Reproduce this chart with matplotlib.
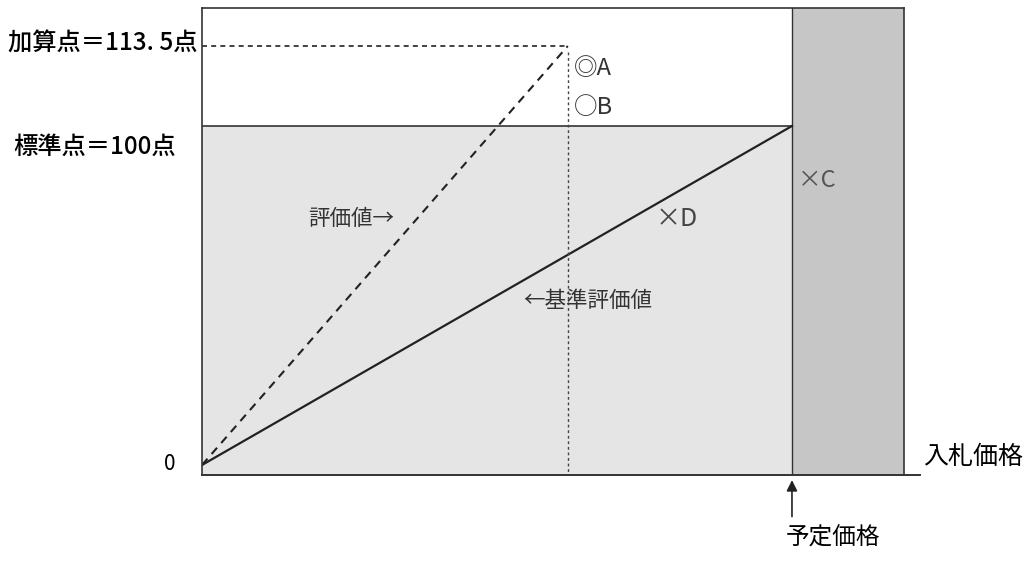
import numpy as np
import matplotlib.pyplot as plt

plt.rcParams['font.family'] = ['Noto Sans CJK JP', 'DejaVu Sans']

# schematic data (price: 予定価格 = 1.0, score in points)
price_start = 0.0
price_cross = 0.62      # bid price of the dotted vertical line
price_planned = 1.0     # 予定価格
price_end = 1.19        # right edge of the frame
score_zero = 0.0
score_std = 100.0       # 標準点
score_add = 113.5       # 加算点

# evaluation lines
eval_x = [price_start, price_cross]
eval_y = [score_zero, score_add]
base_x = [price_start, price_planned]
base_y = [score_zero, score_std]

# the diagram is not to scale: piecewise mapping of scores to drawing height
score_pts = [-3.0, 0.0, 100.0, 113.5, 124.7]
draw_pts = [-10.0, 0.0, 339.0, 419.0, 457.0]


def fwd(v):
    return np.interp(v, score_pts, draw_pts)


def inv(v):
    return np.interp(v, draw_pts, score_pts)


fig = plt.figure(figsize=(10.32, 5.74), dpi=100)
ax = fig.add_axes([202 / 1032, 99 / 574, 718 / 1032, 467 / 574])
ax.set_yscale('function', functions=(fwd, inv))
ax.set_xlim(0, 1.217)
ax.set_ylim(-3.0, 124.7)

light = '#e5e5e5'
dark = '#c6c6c6'

ax.fill_between([price_start, price_planned], -3.0, score_std, color=light, lw=0, zorder=0)
ax.fill_between([price_planned, price_end], -3.0, 124.7, color=dark, lw=0, zorder=0)

# frame
ax.plot([price_start, price_end], [124.7, 124.7], color='#333333', lw=1.2, clip_on=False)
ax.plot([price_end, price_end], [-3.0, 124.7], color='#333333', lw=1.2, clip_on=False)
ax.plot([price_planned, price_planned], [-3.0, 124.7], color='#333333', lw=1.0)
ax.plot([price_start, price_planned], [score_std, score_std], color='#333333', lw=1.2)

# lines
ax.plot(base_x, base_y, color='#222222', lw=1.6)
ax.plot(eval_x, eval_y, color='#222222', lw=1.5, ls=(0, (4, 3)))
ax.plot([price_start, price_cross], [score_add, score_add], color='#222222', lw=1.2, ls=(0, (3, 2.5)))
ax.plot([price_cross, price_cross], [score_add - 1.0, -3.0], color='#444444', lw=1.0, ls=(0, (2, 2)))

for s in ['top', 'right']:
    ax.spines[s].set_visible(False)
ax.spines['left'].set_color('#333333')
ax.spines['bottom'].set_color('#333333')
ax.spines['left'].set_linewidth(1.2)
ax.spines['bottom'].set_linewidth(1.4)
ax.set_xticks([])
ax.set_yticks([])

# y labels
ax.text(-0.008, score_add + 0.6, '加算点＝113. 5点', ha='right', va='center', fontsize=17.5, fontweight='medium')
ax.text(-0.045, score_std - 6.3, '標準点＝100点', ha='right', va='center', fontsize=17.5, fontweight='medium')
ax.text(-0.045, 0.3, '0', ha='right', va='center', fontsize=15)
ax.text(1.222, 2.5, '入札価格', ha='left', va='center', fontsize=18)

# labels inside
ax.text(0.63, 109.7, '◎A', ha='left', va='center', fontsize=17, color='#333333')
ax.text(0.63, 103.1, '○B', ha='left', va='center', fontsize=17, color='#333333')
ax.text(1.01, 84.0, '×C', ha='left', va='center', fontsize=17, color='#555555')
ax.text(0.768, 72.5, '×D', ha='left', va='center', fontsize=18, color='#444444')
ax.text(0.18, 72.5, '評価値→', ha='left', va='center', fontsize=15.5, color='#333333')
ax.text(0.545, 48.5, '←基準評価値', ha='left', va='center', fontsize=15.5, color='#333333')

# 予定価格 arrow (below the axis, in axes fraction)
trans = ax.get_xaxis_transform()
ax.annotate('', xy=(price_planned, -0.005), xytext=(price_planned, -0.095),
            xycoords=trans, textcoords=trans, annotation_clip=False,
            arrowprops=dict(arrowstyle='-|>', color='#222222', lw=1.2, mutation_scale=16))
ax.text(price_planned + 0.07, -0.135, '予定価格', transform=trans,
        ha='center', va='center', fontsize=17)

fig.savefig('out.png', dpi=100)
